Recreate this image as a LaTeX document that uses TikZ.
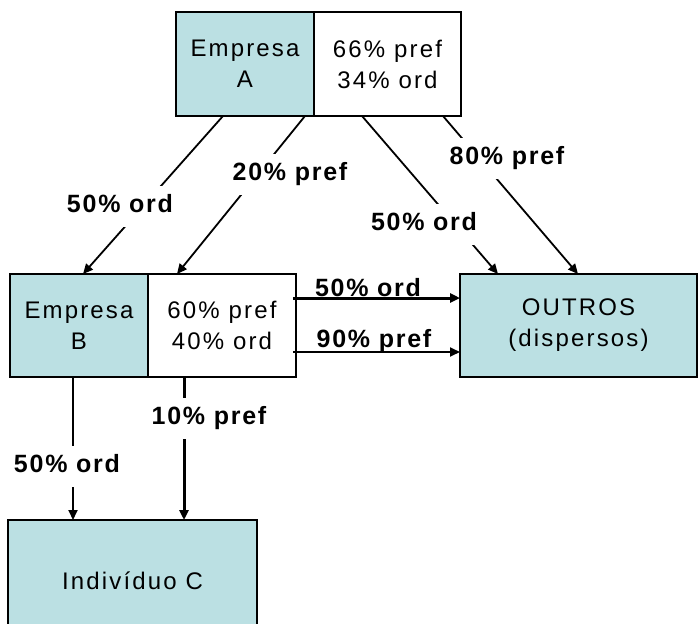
\documentclass[tikz,border=0pt]{standalone}
\usepackage{fontspec}
\setmainfont{Liberation Sans}
\newfontfamily\boxfont{Liberation Sans}[LetterSpace=9]
\newfontfamily\lblfont{Liberation Sans Bold}[LetterSpace=7]
\usetikzlibrary{arrows.meta}
\definecolor{tealfill}{RGB}{187,224,227}
\tikzset{
  box/.style={draw=black, line width=1.6pt, rectangle, inner sep=0pt, align=center,
    font=\boxfont\fontsize{24}{31}\selectfont},
  tealbox/.style={box, fill=tealfill},
  whitebox/.style={box, fill=white},
  arr/.style={draw=black, line width=1.8pt, -{Triangle[length=10pt,width=9pt]}},
  thickarr/.style={arr, line width=3pt},
  lbl/.style={font=\lblfont\fontsize{25}{28}\selectfont, text height=18pt, text depth=5pt,
    inner xsep=3pt, inner ysep=9pt},
  covlbl/.style={lbl, fill=white},
}
\begin{document}
\begin{tikzpicture}[x=1pt,y=-1pt]
\useasboundingbox (0,0) rectangle (699,624);
% boxes
\node[tealbox, minimum width=138pt, minimum height=104pt] (Ateal) at (245,64) {Empresa\\A};
\node[whitebox, minimum width=147pt, minimum height=104pt] (Awhite) at (387.5,64) {66\% pref\\34\% ord};
\node[tealbox, minimum width=138pt, minimum height=103pt] (Bteal) at (79,325.5) {Empresa\\B};
\node[whitebox, minimum width=148pt, minimum height=103pt] (Bwhite) at (222,325.5) {60\% pref\\40\% ord};
\node[tealbox, minimum width=237pt, minimum height=103pt] (Out) at (578.5,325.5) {OUTROS\\(dispersos)};
\node[tealbox, minimum width=249pt, minimum height=122pt] (C) at (132.5,581) {Indiv\'iduo C};
% anchor coordinates
\coordinate (a1) at (223,116);
\coordinate (a2) at (305,116);
\coordinate (a3) at (362,116);
\coordinate (a4) at (443,116);
\coordinate (b1) at (83,274);
\coordinate (b2) at (177,274);
\coordinate (o1) at (498,274);
\coordinate (o2) at (578,274);
\coordinate (bw1) at (293,298);
\coordinate (bw2) at (293,352);
\coordinate (o3) at (460,298);
\coordinate (o4) at (460,352);
\coordinate (bb1) at (73,377);
\coordinate (bb2) at (184,377);
\coordinate (c1) at (73,520);
\coordinate (c2) at (184,520);
% connectors
\draw[arr] (a1) -- (b1);
\draw[arr] (a2) -- (b2);
\draw[arr] (a3) -- (o1);
\draw[arr] (a4) -- (o2);
\draw[thickarr] (bw1) -- (o3);
\draw[arr] (bw2) -- (o4);
\draw[arr] (bb1) -- (c1);
\draw[thickarr] (bb2) -- (c2);
% labels
\node[covlbl] (l1) at (120,206) {50\% ord};
\node[covlbl] (l2) at (290,174) {20\% pref};
\node[covlbl] (l3) at (424,224) {50\% ord};
\node[covlbl] (l4) at (507,158) {80\% pref};
\node[covlbl] (l5) at (67,466) {50\% ord};
\node[covlbl] (l6) at (209,418) {10\% pref};
\node[lbl, anchor=base, inner ysep=0pt] (l7) at (368,296) {50\% ord};
\node[lbl, anchor=base, inner ysep=0pt] (l8) at (374,347) {90\% pref};
\end{tikzpicture}
\end{document}
